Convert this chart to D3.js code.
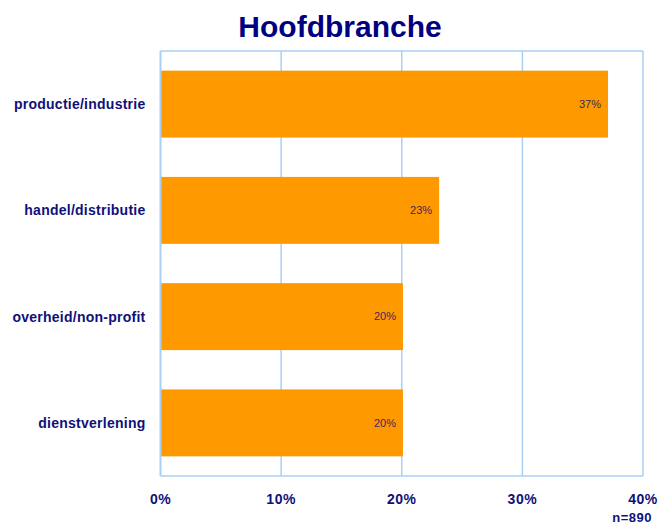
<!DOCTYPE html>
<html>
<head>
<meta charset="utf-8">
<script src="https://cdn.jsdelivr.net/npm/d3@7"></script>
<style>
  body { margin: 0; background: #fff; }
  text { font-family: "Liberation Sans", Arial, sans-serif; }
</style>
</head>
<body>
<div id="container"></div>
<script>
// data
const categories = ["productie/industrie", "handel/distributie", "overheid/non-profit", "dienstverlening"];
const values = [37.1, 23.1, 20.1, 20.1];
const valueLabels = ["37%", "23%", "20%", "20%"];
const ticks = [0, 10, 20, 30, 40];
const title = "Hoofdbranche";
const note = "n=890";

const width = 665, height = 526;
const margin = {top: 51, right: 22, bottom: 50, left: 160.5};
const navy = "#10107a";
const grid = "#aacff7";

const svg = d3.select("#container").append("svg")
    .attr("width", width)
    .attr("height", height);

const x = d3.scaleLinear([0, 40], [margin.left, width - margin.right]);
const y = d3.scaleBand()
    .domain(categories)
    .range([margin.top, height - margin.bottom])
    .paddingInner(0.37)
    .paddingOuter(0.185);

// gridlines
svg.append("g")
    .selectAll("line")
    .data(ticks.slice(1))
    .join("line")
    .attr("x1", d => x(d)).attr("x2", d => x(d))
    .attr("y1", margin.top).attr("y2", height - margin.bottom)
    .attr("stroke", grid)
    .attr("stroke-width", 1.5);

// plot border (top + bottom)
svg.append("line")
    .attr("x1", x(0)).attr("x2", x(40))
    .attr("y1", margin.top).attr("y2", margin.top)
    .attr("stroke", grid).attr("stroke-width", 1.5);
svg.append("line")
    .attr("x1", x(0)).attr("x2", x(40))
    .attr("y1", height - margin.bottom).attr("y2", height - margin.bottom)
    .attr("stroke", grid).attr("stroke-width", 1.5);

// bars
svg.append("g")
    .selectAll("rect")
    .data(categories)
    .join("rect")
    .attr("x", x(0))
    .attr("y", d => y(d))
    .attr("width", (d, i) => x(values[i]) - x(0))
    .attr("height", y.bandwidth())
    .attr("fill", "#ff9900");

// left axis line
svg.append("line")
    .attr("x1", x(0)).attr("x2", x(0))
    .attr("y1", margin.top).attr("y2", height - margin.bottom)
    .attr("stroke", grid).attr("stroke-width", 2);

// value labels
svg.append("g")
    .selectAll("text")
    .data(categories)
    .join("text")
    .attr("x", (d, i) => x(values[i]) - 7)
    .attr("y", d => y(d) + y.bandwidth() / 2)
    .attr("dy", "0.35em")
    .attr("text-anchor", "end")
    .attr("font-size", 11)
    .attr("fill", "#3a2a5a")
    .text((d, i) => valueLabels[i]);

// category labels
svg.append("g")
    .selectAll("text")
    .data(categories)
    .join("text")
    .attr("x", x(0) - 15)
    .attr("y", d => y(d) + y.bandwidth() / 2)
    .attr("dy", "0.35em")
    .attr("text-anchor", "end")
    .attr("font-size", 14)
    .attr("font-weight", "bold")
    .attr("letter-spacing", 0.25)
    .attr("fill", navy)
    .text(d => d);

// x tick labels
svg.append("g")
    .selectAll("text")
    .data(ticks)
    .join("text")
    .attr("x", d => x(d))
    .attr("y", 504)
    .attr("text-anchor", "middle")
    .attr("font-size", 14)
    .attr("font-weight", "bold")
    .attr("letter-spacing", 0.5)
    .attr("fill", navy)
    .text(d => d + "%");

// n note
svg.append("text")
    .attr("x", 652)
    .attr("y", 522)
    .attr("text-anchor", "end")
    .attr("font-size", 13)
    .attr("font-weight", "bold")
    .attr("letter-spacing", 0.5)
    .attr("fill", navy)
    .text(note);

// title
svg.append("text")
    .attr("x", 340)
    .attr("y", 37)
    .attr("text-anchor", "middle")
    .attr("font-size", 30)
    .attr("font-weight", "bold")
    .attr("fill", "#000080")
    .text(title);
</script>
</body>
</html>
